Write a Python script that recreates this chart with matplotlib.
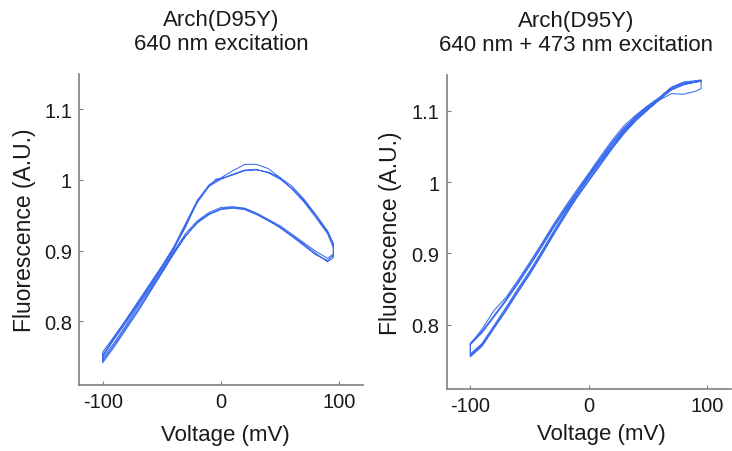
import numpy as np
import matplotlib
matplotlib.use('Agg')
import matplotlib.pyplot as plt

plt.rcParams['font.family'] = 'Liberation Sans'

# command voltage for each sweep (mV)
vUp = [-100, -90, -80, -70, -60, -50, -40, -30, -20, -10, 0, 10, 20, 30, 40, 50, 60, 70, 80, 90, 95]
vDown = vUp[::-1]
vStart = [-4, -10, -20, -30, -40, -50, -60, -70, -80, -90, -100]
vEnd = [95, 90, 80, 70, 60, 50, 40, 30, 20, 10, 0, -4]

# 640 nm excitation
redStart = [1.001, 0.992, 0.970, 0.933, 0.903, 0.877, 0.851, 0.826, 0.801, 0.777, 0.752]
redUp1 = [0.744, 0.767, 0.792, 0.817, 0.843, 0.869, 0.896, 0.921, 0.939, 0.951, 0.958,
          0.960, 0.958, 0.951, 0.942, 0.933, 0.921, 0.909, 0.896, 0.884, 0.890]
redDown1 = [0.908, 0.926, 0.950, 0.971, 0.988, 1.001, 1.010, 1.015, 1.014, 1.008, 1.001,
            0.991, 0.968, 0.935, 0.901, 0.875, 0.849, 0.824, 0.799, 0.775, 0.750]
redUp2 = [0.747, 0.770, 0.795, 0.821, 0.846, 0.872, 0.898, 0.924, 0.942, 0.954, 0.961,
          0.962, 0.960, 0.953, 0.944, 0.935, 0.923, 0.911, 0.899, 0.889, 0.895]
redDown2 = [0.904, 0.924, 0.947, 0.969, 0.987, 1.003, 1.016, 1.022, 1.022, 1.013, 1.003,
            0.993, 0.971, 0.938, 0.905, 0.878, 0.853, 0.828, 0.803, 0.779, 0.756]
redUp3 = [0.741, 0.764, 0.789, 0.814, 0.841, 0.868, 0.895, 0.920, 0.940, 0.952, 0.959,
          0.961, 0.959, 0.952, 0.943, 0.932, 0.920, 0.907, 0.894, 0.886, 0.893]
redEnd = [0.910, 0.928, 0.951, 0.973, 0.991, 1.003, 1.011, 1.014, 1.013, 1.007, 1.002, 1.001]

# 640 nm + 473 nm excitation
blueUp1 = [0.757, 0.772, 0.796, 0.821, 0.847, 0.872, 0.899, 0.927, 0.954, 0.980, 1.003,
           1.026, 1.049, 1.070, 1.088, 1.102, 1.115, 1.124, 1.123, 1.127, 1.131]
blueDown1 = [1.142, 1.141, 1.139, 1.132, 1.118, 1.106, 1.092, 1.076, 1.056, 1.033, 1.010,
             0.986, 0.962, 0.937, 0.910, 0.884, 0.859, 0.835, 0.813, 0.791, 0.774]
blueUp2 = [0.759, 0.774, 0.799, 0.824, 0.850, 0.875, 0.902, 0.930, 0.957, 0.983, 1.006,
           1.029, 1.051, 1.072, 1.090, 1.104, 1.117, 1.130, 1.137, 1.140, 1.143]
blueDown2 = [1.143, 1.142, 1.140, 1.133, 1.119, 1.107, 1.094, 1.079, 1.059, 1.036, 1.012,
             0.989, 0.965, 0.940, 0.913, 0.887, 0.862, 0.838, 0.820, 0.794, 0.773]
blueUp3 = [0.755, 0.770, 0.795, 0.819, 0.845, 0.870, 0.897, 0.925, 0.952, 0.978, 1.001,
           1.024, 1.047, 1.068, 1.086, 1.101, 1.116, 1.129, 1.136, 1.140, 1.142]
blueDown3 = [1.141, 1.140, 1.137, 1.130, 1.117, 1.104, 1.090, 1.074, 1.054, 1.031, 1.008,
             0.984, 0.960, 0.935, 0.908, 0.882, 0.857, 0.833, 0.811, 0.789, 0.772]

xTicks = [-100, 0, 100]
xTickLabels = ['-100', '0', '100']
yTicks = [0.8, 0.9, 1.0, 1.1]
yTickLabels = ['0.8', '0.9', '1', '1.1']

culoare = '#3b6ced'
gri = '#808080'
text = '#1a1a1a'

redV = np.concatenate([vStart, vUp, vDown, vUp, vDown, vUp, vEnd])
redF = np.concatenate([redStart, redUp1, redDown1, redUp2, redDown2, redUp3, redEnd])
blueV = np.concatenate([vUp, vDown, vUp, vDown, vUp, vDown])
blueF = np.concatenate([blueUp1, blueDown1, blueUp2, blueDown2, blueUp3, blueDown3])

fig = plt.figure(figsize=(7.32, 4.52), dpi=100)
axL = fig.add_axes([0.1079, 0.1467, 0.388, 0.6874])
axR = fig.add_axes([0.6102, 0.1372, 0.388, 0.6947])

panouri = [
    (axL, redV, redF, 'Arch(D95Y)\n640 nm excitation', 0.5, (0.514, -0.127), (-0.151, 0.5)),
    (axR, blueV, blueF, 'Arch(D95Y)\n640 nm + 473 nm excitation', 0.455, (0.546, -0.108), (-0.157, 0.5)),
]

for ax, v, f, titlu, xt, xlab, ylab in panouri:
    ax.plot(v, f, color=culoare, lw=0.75)
    ax.set_xlim(-120, 120)
    ax.set_ylim(0.71, 1.15)
    ax.set_xticks(xTicks)
    ax.set_xticklabels(xTickLabels)
    ax.set_yticks(yTicks)
    ax.set_yticklabels(yTickLabels)
    ax.spines['top'].set_visible(False)
    ax.spines['right'].set_visible(False)
    for s in ['left', 'bottom']:
        ax.spines[s].set_color(gri)
        ax.spines[s].set_linewidth(1.2)
    ax.tick_params(direction='in', length=3, width=0.8, color=gri,
                   labelsize=14.5, labelcolor=text, pad=5)
    ax.set_title(titlu, fontsize=16, color=text, x=xt, pad=18, linespacing=1.2)
    ax.set_xlabel('Voltage (mV)', fontsize=16, color=text)
    ax.set_ylabel('Fluorescence (A.U.)', fontsize=16.5, color=text)
    ax.xaxis.set_label_coords(*xlab)
    ax.yaxis.set_label_coords(*ylab)

fig.savefig('out.png', dpi=100)
